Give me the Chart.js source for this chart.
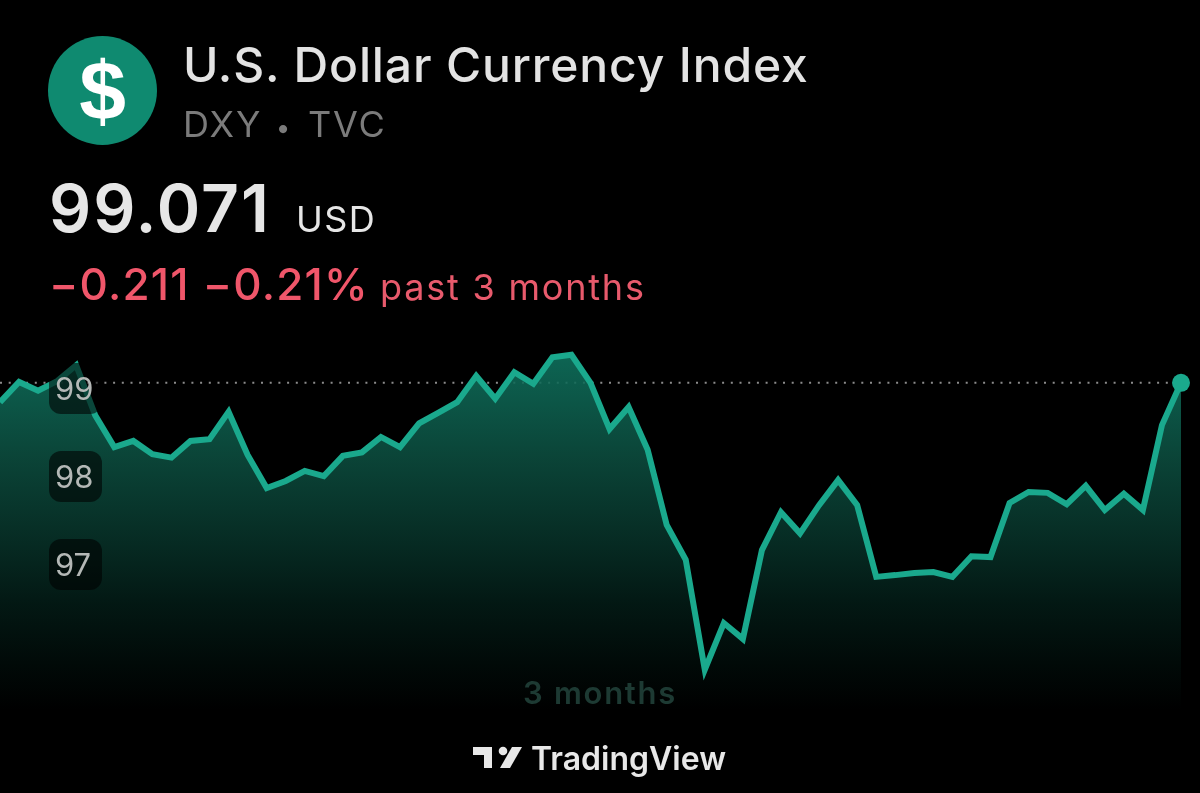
<!DOCTYPE html>
<html>
<head>
<meta charset="utf-8">
<script src="https://cdn.jsdelivr.net/npm/chart.js@4/dist/chart.umd.js"></script>
<style>
html,body{margin:0;padding:0;background:#000;width:1200px;height:793px;overflow:hidden}
#wrap{position:relative;width:1200px;height:793px;filter:blur(0.5px)}
canvas{position:absolute;left:0;top:0}
svg{position:absolute;left:0;top:0}
</style>
</head>
<body>
<div id="wrap">
<canvas id="c" width="1200" height="793"></canvas>
<svg width="1200" height="793" viewBox="0 0 1200 793" font-family="Inter, sans-serif">
  <circle cx="102.5" cy="90.5" r="54.5" fill="#0f8a70"/>
  <text x="102.5" y="120" text-anchor="middle" font-family="Liberation Sans" font-weight="700" font-size="84" fill="#fff">$</text>
  <text x="183" y="82" font-size="48" font-weight="500" letter-spacing="0.85" fill="#e3e3e3">U.S. Dollar Currency Index</text>
  <text x="183" y="137" font-size="36" font-weight="400" letter-spacing="1.8" fill="#7b7b7b">DXY</text>
  <text x="283" y="137" text-anchor="middle" font-size="26" font-weight="400" fill="#7b7b7b">•</text>
  <text x="308" y="137" font-size="36" font-weight="400" letter-spacing="1.8" fill="#7b7b7b">TVC</text>
  <text x="49" y="232" font-size="66" font-weight="600" letter-spacing="2" fill="#e6e6e6">99.071</text>
  <text x="296" y="232" font-size="36" font-weight="400" letter-spacing="1.4" fill="#e6e6e6">USD</text>
  <text x="49" y="300" font-size="44" font-weight="500" letter-spacing="1.2" fill="#f0566a">−0.211 −0.21%</text>
  <text x="380" y="300" font-size="36" font-weight="400" letter-spacing="1.8" fill="#e85a6c">past 3 months</text>
  <text x="600" y="704" text-anchor="middle" font-size="31" font-weight="600" letter-spacing="1.7" fill="#1d3a33">3 months</text>
  <g fill="#e8e8e8">
    <path d="M473 747H492V768H484V755H473Z"/>
    <circle cx="503" cy="751" r="4.3"/>
    <path d="M512 747H522L510 768H500Z"/>
  </g>
  <text x="531" y="770" font-size="32" font-weight="600" fill="#e8e8e8">TradingView</text>
</svg>
</div>
<script>
const categories = Array.from({length: 63}, (_, i) => 'D' + (i + 1));
const priceValues = [
  98.85, 99.08, 98.98, 99.09, 99.27, 98.70, 98.34, 98.41, 98.26, 98.22,
  98.41, 98.43, 98.74, 98.25, 97.875, 97.955, 98.07, 98.01, 98.24, 98.28,
  98.455, 98.34, 98.61, 98.73, 98.85, 99.15, 98.89, 99.19, 99.06, 99.36,
  99.39, 99.07, 98.545, 98.795, 98.31, 97.455, 97.06, 95.81, 96.34, 96.16,
  97.17, 97.60, 97.36, 97.68, 97.965, 97.68, 96.865, 96.885, 96.91, 96.92,
  96.865, 97.10, 97.09, 97.705, 97.83, 97.82, 97.69, 97.90, 97.625, 97.81,
  97.625, 98.59, 99.071
];
const yTickValues = [97, 98, 99];
const lastPrice = 99.071;

const lineColor = '#1aa98d';

const backdropPlugin = {
  id: 'axisChrome',
  beforeDatasetsDraw(chart) {
    const {ctx, chartArea: a, scales: {y}} = chart;
    const py = y.getPixelForValue(lastPrice);
    ctx.save();
    ctx.strokeStyle = '#8c8c8c';
    ctx.lineWidth = 2;
    ctx.setLineDash([2, 6.7]);
    ctx.beginPath();
    ctx.moveTo(a.left, py);
    ctx.lineTo(a.right, py);
    ctx.stroke();
    ctx.restore();
  },
  afterDatasetsDraw(chart) {
    const {ctx, scales: {y}} = chart;
    ctx.save();
    ctx.fillStyle = 'rgba(0,0,0,0.58)';
    yTickValues.forEach(v => {
      const py = y.getPixelForValue(v);
      ctx.beginPath();
      ctx.roundRect(49, py - 26, 53, 51, 12);
      ctx.fill();
    });
    ctx.restore();
  }
};

new Chart(document.getElementById('c'), {
  type: 'line',
  plugins: [backdropPlugin],
  data: {
    labels: categories,
    datasets: [{
      label: 'DXY',
      data: priceValues,
      borderColor: lineColor,
      borderWidth: 6,
      tension: 0,
      clip: false,
      pointRadius: c => c.dataIndex === priceValues.length - 1 ? 9 : 0,
      pointBackgroundColor: lineColor,
      pointBorderWidth: 0,
      fill: 'start',
      backgroundColor: c => {
        const a = c.chart.chartArea;
        if (!a) return 'rgba(0,0,0,0)';
        const g = c.chart.ctx.createLinearGradient(0, 355, 0, 710);
        g.addColorStop(0, 'rgba(15,115,95,0.88)');
        g.addColorStop(0.3, 'rgba(12,76,62,0.88)');
        g.addColorStop(0.7, 'rgba(3,26,21,0.92)');
        g.addColorStop(0.87, 'rgba(1,10,8,0.96)');
        g.addColorStop(1, 'rgba(0,0,0,1)');
        return g;
      }
    }]
  },
  options: {
    responsive: false,
    animation: false,
    layout: {autoPadding: false, padding: {left: 0, right: 19, top: 340, bottom: 83}},
    plugins: {legend: {display: false}, tooltip: {enabled: false}},
    scales: {
      x: {display: false, offset: false},
      y: {
        min: 95.352,
        max: 99.557,
        border: {display: false},
        grid: {display: false},
        afterBuildTicks: s => { s.ticks = yTickValues.map(v => ({value: v})); },
        afterFit: s => { s.width = 0; },
        ticks: {
          mirror: true,
          padding: 55,
          labelOffset: 2,
          z: 1,
          color: '#b4b8b6',
          font: {family: 'Inter', size: 31, weight: '400'},
          callback: v => String(v)
        }
      }
    }
  }
});
</script>
</body>
</html>
